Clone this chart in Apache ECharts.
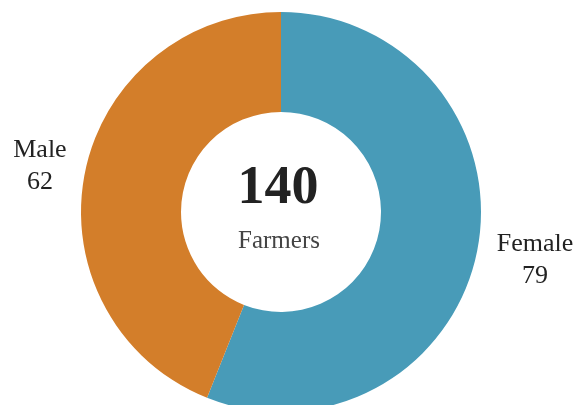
<!DOCTYPE html>
<html>
<head>
<meta charset="utf-8">
<script src="https://cdn.jsdelivr.net/npm/echarts@6/dist/echarts.min.js"></script>
<style>
  html, body { margin: 0; padding: 0; background: #fff; }
  #mychart { width: 576px; height: 405px; }
</style>
</head>
<body>
<div id="mychart"></div>
<script>
// data
let categories = ['Female', 'Male'];
let values = [79, 62];
let totalLabel = '140';
let totalCaption = 'Farmers';

let colors = {
  female: '#489bb8',
  male: '#d37e2a',
  text: '#222222',
  caption: '#444444',
};

let fontFamily = '"Liberation Serif", "DejaVu Serif", serif';
let cx = 281;
let cy = 212;

let option = {
  animation: false,
  graphic: [
    {
      type: 'text',
      style: {
        x: cx - 3,
        y: cy - 23,
        text: totalLabel,
        textAlign: 'center',
        textVerticalAlign: 'middle',
        fontFamily: fontFamily,
        fontSize: 54,
        fontWeight: 'bold',
        fill: colors.text,
      },
    },
    {
      type: 'text',
      style: {
        x: cx - 2,
        y: cy + 29,
        text: totalCaption,
        textAlign: 'center',
        textVerticalAlign: 'middle',
        fontFamily: fontFamily,
        fontSize: 25,
        fill: colors.caption,
      },
    },
  ],
  series: [
    {
      type: 'pie',
      center: [cx, cy],
      radius: [100, 200],
      startAngle: 90,
      clockwise: true,
      avoidLabelOverlap: false,
      data: categories.map((name, i) => ({
        name: name,
        value: values[i],
        itemStyle: { color: i === 0 ? colors.female : colors.male },
      })),
      label: {
        show: true,
        position: 'outside',
        formatter: '{b}\n{c}',
        fontFamily: fontFamily,
        fontSize: 26,
        lineHeight: 32,
        color: colors.text,
      },
      labelLine: {
        show: false,
        length: 20,
        length2: 0,
      },
      // shift each label off the end of its (hidden) label line
      labelLayout: function (params) {
        let p = params.labelLinePoints[2];
        let right = p[0] > cx;
        return {
          x: p[0] + (right ? 38 : -25),
          y: p[1] + (right ? 7 : -4),
          align: 'center',
          verticalAlign: 'middle',
        };
      },
      emphasis: { disabled: true },
    },
  ],
};

let myChart = echarts.init(document.getElementById('mychart'));
myChart.setOption(option);
</script>
</body>
</html>
